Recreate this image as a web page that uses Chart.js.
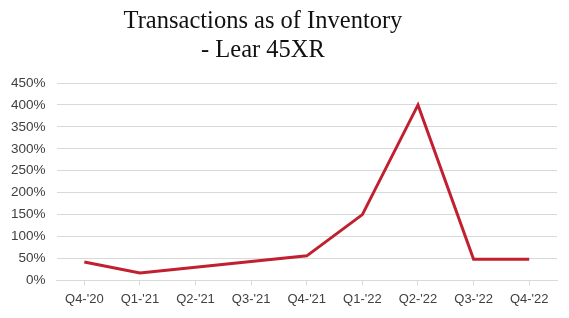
<!DOCTYPE html>
<html>
<head>
<meta charset="utf-8">
<script src="https://cdn.jsdelivr.net/npm/chart.js@4/dist/chart.umd.min.js"></script>
<style>
  html, body { margin: 0; padding: 0; background: #fff; }
  #wrap { width: 569px; height: 318px; position: relative; }
  #chartTitle {
    position: absolute; top: 5px; left: 0; width: 526px;
    text-align: center; color: #111;
    font-family: 'Liberation Serif', serif; font-size: 24.5px; line-height: 29px;
  }
</style>
</head>
<body>
<div id="wrap">
  <div id="chartTitle"></div>
  <canvas id="txChart"></canvas>
</div>
<script>
// quarters and transactions as % of inventory
var quarters = ["Q4-'20", "Q1-'21", "Q2-'21", "Q3-'21", "Q4-'21", "Q1-'22", "Q2-'22", "Q3-'22", "Q4-'22"];
var txPct = [42, 17, 30, 43, 56, 150, 400, 48, 48];
var titleLines = ['Transactions as of Inventory', '- Lear 45XR'];

var lineRed = '#C0202F';

document.getElementById('chartTitle').innerHTML = titleLines.join('<br>');

var ctx = document.getElementById('txChart');
var txChart = new Chart(ctx, {
    type: 'line',
    data: {
        labels: quarters,
        datasets: [{
            label: 'Transactions',
            data: txPct,
            borderColor: lineRed,
            borderWidth: 3,
            pointRadius: 0,
            tension: 0,
            fill: false
        }]
    },
    options: {
        responsive: true,
        maintainAspectRatio: false,
        animation: false,
        layout: { padding: { left: 0, right: 12, top: 83, bottom: 5 } },
        plugins: {
            legend: { display: false },
            tooltip: { enabled: false },
            title: { display: false }
        },
        scales: {
            x: {
                offset: true,
                grid: { offset: false, drawOnChartArea: false, drawTicks: true, tickLength: 5, color: '#d9d9d9' },
                border: { color: '#d9d9d9' },
                ticks: { color: '#404040', font: { family: 'Liberation Sans', size: 13 }, maxRotation: 0, padding: 6 }
            },
            y: {
                min: 0,
                max: 450,
                ticks: {
                    stepSize: 50,
                    color: '#404040',
                    font: { family: 'Liberation Sans', size: 13.5 },
                    padding: 11,
                    callback: function (v) { return v + '%'; }
                },
                grid: { color: '#d9d9d9', drawTicks: false },
                border: { display: false }
            }
        }
    }
});
</script>
</body>
</html>
